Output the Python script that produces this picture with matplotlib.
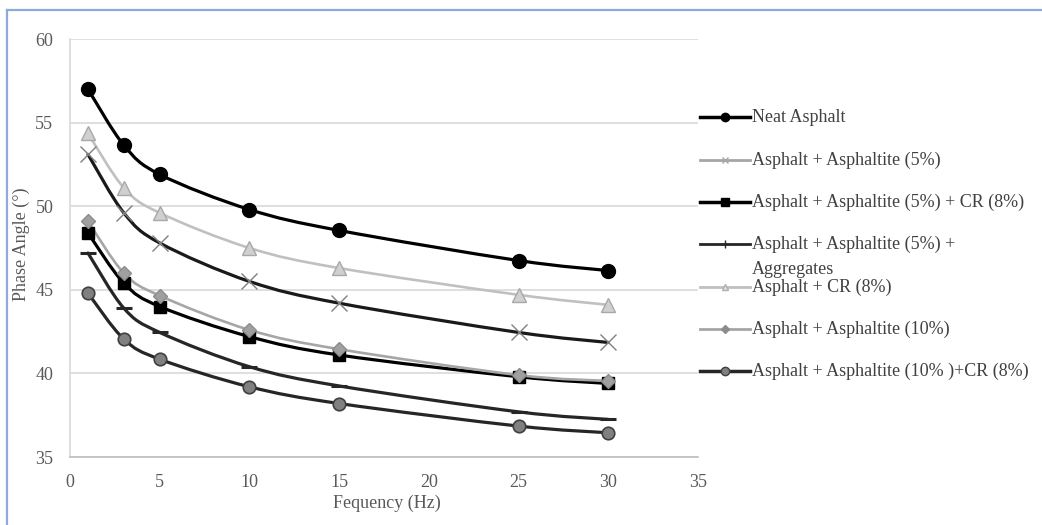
import numpy as np
import matplotlib.pyplot as plt
from matplotlib.path import Path
from matplotlib.patches import PathPatch
from matplotlib.lines import Line2D

plt.rcParams['font.family'] = ['Liberation Serif', 'DejaVu Serif']

# frequencies (Hz)
freq = [1, 3, 5, 10, 15, 25, 30]

# phase angle (deg) per binder
neat = [57.0, 53.65, 51.9, 49.8, 48.55, 46.75, 46.15]
asph5 = [53.1, 49.6, 47.8, 45.5, 44.2, 42.45, 41.85]
asph5_cr8 = [48.4, 45.4, 44.0, 42.2, 41.1, 39.8, 39.4]
asph5_agg = [47.2, 43.9, 42.45, 40.4, 39.25, 37.7, 37.25]
cr8 = [54.35, 51.1, 49.6, 47.5, 46.3, 44.7, 44.1]
asph10 = [49.1, 46.0, 44.65, 42.6, 41.45, 39.9, 39.55]
asph10_cr8 = [44.8, 42.05, 40.85, 39.2, 38.2, 36.85, 36.45]

labels = ['Neat Asphalt',
          'Asphalt + Asphaltite (5%)',
          'Asphalt + Asphaltite (5%) + CR (8%)',
          'Asphalt + Asphaltite (5%) +\nAggregates',
          'Asphalt + CR (8%)',
          'Asphalt + Asphaltite (10%)',
          'Asphalt + Asphaltite (10% )+CR (8%)']

series = [neat, asph5, asph5_cr8, asph5_agg, cr8, asph10, asph10_cr8]

# (line color, lw, marker, ms, face, edge, mew)
styles = [
    ('#000000', 2.3, 'o', 10, '#000000', '#000000', 1.0),
    ('#1a1a1a', 2.3, 'x', 11, '#7f7f7f', '#7f7f7f', 1.0),
    ('#000000', 2.3, 's', 9, '#000000', '#000000', 1.0),
    ('#262626', 2.3, '_', 12, '#262626', '#262626', 2.2),
    ('#c0c0c0', 1.9, '^', 10, '#d0d0d0', '#a8a8a8', 1.0),
    ('#a6a6a6', 1.9, 'D', 7, '#a0a0a0', '#8c8c8c', 1.0),
    ('#262626', 2.3, 'o', 9, '#808080', '#404040', 1.2),
]

# legend handle looks (as in the original legend)
leg_styles = [
    ('#000000', 2.5, 'o', 6, '#000000', '#000000'),
    ('#a6a6a6', 2.0, 'x', 5, '#a6a6a6', '#a6a6a6'),
    ('#000000', 2.5, 's', 6, '#000000', '#000000'),
    ('#262626', 2.0, '+', 6, '#262626', '#262626'),
    ('#c0c0c0', 2.0, '^', 5, '#e0e0e0', '#b0b0b0'),
    ('#a6a6a6', 2.0, 'D', 4, '#8c8c8c', '#8c8c8c'),
    ('#262626', 2.5, 'o', 6, '#808080', '#404040'),
]


def smooth_path(xs, ys):
    # excel-like smoothed line (catmull-rom as cubic bezier)
    p = np.column_stack([xs, ys]).astype(float)
    n = len(p)
    verts = [p[0]]
    codes = [Path.MOVETO]
    for i in range(n - 1):
        p0 = p[i - 1] if i > 0 else p[i]
        p1 = p[i]
        p2 = p[i + 1]
        p3 = p[i + 2] if i + 2 < n else p[i + 1]
        verts += [p1 + (p2 - p0) / 6, p2 - (p3 - p1) / 6, p2]
        codes += [Path.CURVE4] * 3
    return Path(verts, codes)


fig = plt.figure(figsize=(10.42, 5.25), dpi=100)
ax = fig.add_axes([0.0672, 0.1295, 0.6027, 0.7962])

for ys, st in zip(series, styles):
    col, lw, mk, ms, fc, ec, mew = st
    ax.add_patch(PathPatch(smooth_path(freq, ys), fill=False, edgecolor=col,
                           lw=lw, capstyle='round', joinstyle='round'))
    ax.plot(freq, ys, linestyle='none', marker=mk, ms=ms, mfc=fc, mec=ec, mew=mew)

ax.set_xlim(0, 35)
ax.set_ylim(35, 60)
ax.set_xticks(np.arange(0, 36, 5))
ax.set_yticks(np.arange(35, 61, 5))
ax.grid(axis='y', color='#d9d9d9', lw=1.2)
ax.set_axisbelow(True)
for s in ['top', 'right']:
    ax.spines[s].set_visible(False)
ax.spines['left'].set_color('#d9d9d9')
ax.spines['bottom'].set_color('#bfbfbf')
ax.spines['left'].set_linewidth(1.2)
ax.spines['bottom'].set_linewidth(1.2)
ax.tick_params(length=0, labelsize=13, labelcolor='#595959')
ax.tick_params(axis='y', pad=12)
ax.tick_params(axis='x', pad=12)
ax.set_xlabel('Fequency (Hz)', fontsize=13, color='#595959')
ax.set_ylabel('Phase Angle (°)', fontsize=13, color='#595959')
ax.xaxis.set_label_coords(0.504, -0.09)
ax.yaxis.set_label_coords(-0.063, 0.51)

# legend drawn by hand (the wrapped label overlaps the next one, as in the original)
W, H = 1042.0, 525.0
leg_y = [117, 160, 202, 244, 287, 329, 371]
for y, lab, st in zip(leg_y, labels, leg_styles):
    col, lw, mk, ms, fc, ec = st
    fy = 1 - y / H
    fig.add_artist(Line2D([700 / W, 750 / W], [fy, fy], color=col, lw=lw))
    fig.add_artist(Line2D([725 / W], [fy], marker=mk, ms=ms, mfc=fc, mec=ec,
                          linestyle='none'))
    if '\n' in lab:
        first, second = lab.split('\n')
        fig.text(752 / W, fy, first, fontsize=13, color='#404040', va='center')
        fig.text(752 / W, 1 - 269 / H, second, fontsize=13, color='#404040', va='center')
    else:
        fig.text(752 / W, fy, lab, fontsize=13, color='#404040', va='center')

# chart frame
fig.add_artist(Line2D([7 / W, 1], [1 - 10 / H, 1 - 10 / H], color='#8eaadb', lw=1.6))
fig.add_artist(Line2D([7 / W, 7 / W], [0, 1 - 10 / H], color='#8eaadb', lw=1.6))

fig.savefig('out.png', dpi=100)
